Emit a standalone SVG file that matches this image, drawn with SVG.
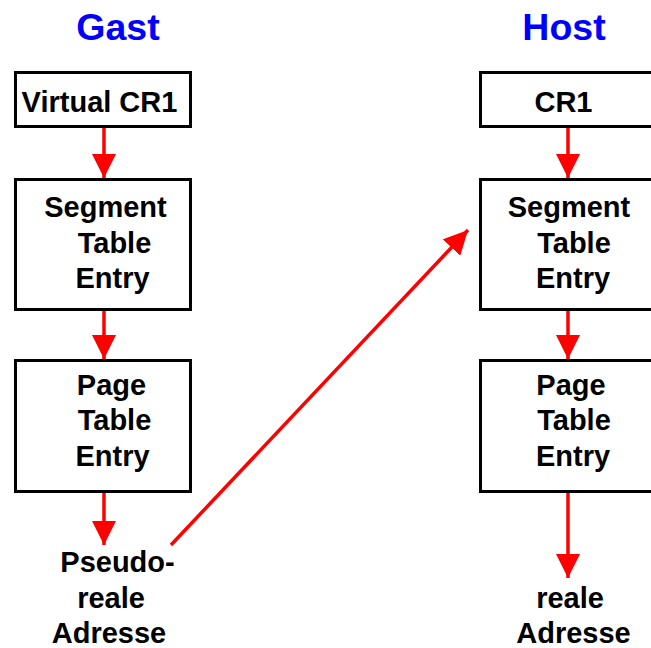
<svg xmlns="http://www.w3.org/2000/svg" width="651" height="648" viewBox="0 0 651 648">
<style>
.box{fill:#fff;stroke:#000;stroke-width:3}
.t{font-family:"Liberation Sans",Arial,sans-serif;font-weight:bold;font-size:29px;fill:#000;text-anchor:middle}
.h{font-family:"Liberation Sans",Arial,sans-serif;font-weight:bold;font-size:37.5px;fill:#0000ff;text-anchor:middle}
.c{stroke:#ff0000;stroke-width:3.5;fill:none;marker-end:url(#ah)}
</style>
<defs>
<marker id="ah" markerUnits="userSpaceOnUse" markerWidth="24" markerHeight="24" refX="24" refY="12" orient="auto" viewBox="0 0 24 24">
<path d="M0,0 L24,12 L0,24 z" fill="#ff0000"/>
</marker>
</defs>
<rect width="651" height="648" fill="#fff"/>
<text class="h" x="118" y="40">Gast</text>
<text class="h" x="564" y="40">Host</text>
<g id="connectors">
<line class="c" x1="104" y1="128" x2="104" y2="178"/>
<line class="c" x1="104" y1="311" x2="104" y2="359"/>
<line class="c" x1="104" y1="493" x2="104" y2="545"/>
<line class="c" x1="568" y1="128" x2="568" y2="178"/>
<line class="c" x1="568" y1="311" x2="568" y2="359"/>
<line class="c" x1="568" y1="493" x2="568" y2="578"/>
<line class="c" x1="171" y1="545" x2="468" y2="230"/>
</g>
<g id="g_cr1">
<rect class="box" x="15.5" y="72.5" width="175" height="54"/>
<text class="t" x="99.5" y="112">Virtual CR1</text>
</g>
<g id="g_ste">
<rect class="box" x="15.5" y="179.5" width="175" height="130"/>
<text class="t" x="105.5" y="217">Segment</text>
<text class="t" x="114.5" y="253">Table</text>
<text class="t" x="112.5" y="288">Entry</text>
</g>
<g id="g_pte">
<rect class="box" x="15.5" y="360.5" width="175" height="131"/>
<text class="t" x="111.5" y="395">Page</text>
<text class="t" x="114.5" y="430">Table</text>
<text class="t" x="112.5" y="466">Entry</text>
</g>
<g id="g_addr">
<text class="t" x="117.5" y="572">Pseudo-</text>
<text class="t" x="111" y="608">reale</text>
<text class="t" x="109" y="643">Adresse</text>
</g>
<g id="h_cr1">
<rect class="box" x="480.5" y="72.5" width="200" height="54"/>
<text class="t" x="563.5" y="112">CR1</text>
</g>
<g id="h_ste">
<rect class="box" x="480.5" y="179.5" width="200" height="130"/>
<text class="t" x="569" y="217">Segment</text>
<text class="t" x="574" y="253">Table</text>
<text class="t" x="573" y="288">Entry</text>
</g>
<g id="h_pte">
<rect class="box" x="480.5" y="360.5" width="200" height="131"/>
<text class="t" x="571" y="395">Page</text>
<text class="t" x="574" y="430">Table</text>
<text class="t" x="573" y="466">Entry</text>
</g>
<g id="h_addr">
<text class="t" x="570" y="608">reale</text>
<text class="t" x="573.5" y="643">Adresse</text>
</g>
</svg>
